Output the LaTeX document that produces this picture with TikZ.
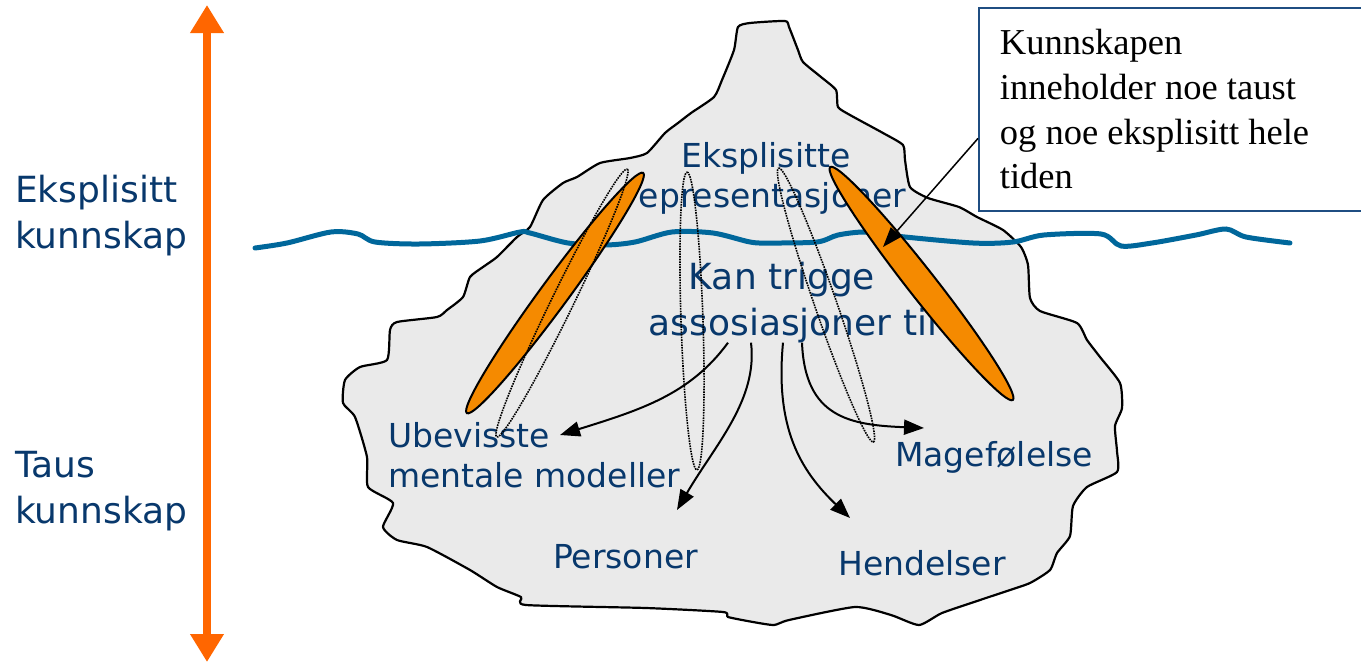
\documentclass[tikz,border=0pt]{standalone}
\usepackage{fontspec}
\newfontfamily\lblfont{DejaVu Sans}
\newfontfamily\boxfont{Liberation Serif}
\usetikzlibrary{arrows.meta}
\definecolor{icegray}{RGB}{234,234,234}
\definecolor{navy}{RGB}{8,56,108}
\definecolor{sea}{RGB}{0,103,155}
\definecolor{peel}{RGB}{245,138,0}
\definecolor{axisorange}{RGB}{255,102,0}
\definecolor{boxblue}{RGB}{31,78,130}

\begin{document}
\begin{tikzpicture}[x=1pt,y=-1pt,
	lbl/.style={text=navy,inner sep=0pt,align=left,font=\lblfont\fontsize{33}{40}\selectfont},
	biglbl/.style={lbl,font=\lblfont\fontsize{36}{45.5}\selectfont},
	arr/.style={line width=2pt,-{Triangle[length=20pt,width=15pt]}},
	axisarrow/.style={axisorange,line width=8pt,{Triangle[length=28pt,width=32pt]}-{Triangle[length=28pt,width=32pt]}},
	dottedloop/.style={densely dotted,line width=1.6pt,black}]
	\clip (0,0) rectangle (1361,667);
	% iceberg and sea
	\draw[line width=2.2pt,fill=icegray,line join=round] plot[smooth cycle,tension=0.35] coordinates {(738,27) (750,23) (785,21) (789,27) (798,50) (803,62) (821,77) (836,90) (838,107) (850,115) (883,133) (903,145) (905,160) (910,187) (928,198) (959,207) (977,217) (1003,230) (1021,247) (1028,265) (1030,298) (1040,311) (1077,323) (1087,340) (1100,357) (1120,383) (1122,408) (1115,426) (1117,451) (1117,472) (1087,487) (1073,506) (1070,536) (1057,553) (1050,570) (1030,583) (1007,591) (980,600) (942,613) (919,625) (891,615) (855,607) (789,620) (774,625) (753,622) (728,617) (723,612) (646,608) (526,605) (521,597) (497,587) (470,570) (427,547) (397,540) (383,527) (393,503) (368,487) (367,457) (355,417) (343,403) (345,380) (360,367) (387,360) (390,330) (397,322) (437,317) (447,310) (463,297) (470,277) (483,267) (497,257) (517,237) (530,227) (543,200) (563,183) (577,177) (600,163) (630,158) (647,153) (665,133) (678,123) (691,113) (714,97) (722,80) (734,50)};
	\draw[sea,line width=5pt,line cap=round] plot[smooth,tension=0.5] coordinates {(255,248) (287,243) (331,232) (358,234) (375,242) (419,244) (480,241) (520,232) (530,233) (568,243) (605,245) (635,242) (672,232) (713,233) (750,242) (770,243) (817,242) (838,235) (865,232) (895,236) (973,243) (1013,242) (1044,235) (1101,234) (1121,246) (1152,243) (1196,235) (1226,229) (1246,237) (1290,243)};
	% labels (base = last line)
	\node[biglbl,anchor=base west] (ekspl) at (15,248) {Eksplisitt\\kunnskap};
	\node[biglbl,anchor=base west] (taus) at (15,523) {Taus\\kunnskap};
	\node[lbl,align=center,anchor=base] (repr) at (766,207) {Eksplisitte\\representasjoner};
	\node[biglbl,align=center,anchor=base] (trig) at (782,335) {Kan trigge\\\hspace*{22pt}assosiasjoner til};
	\node[lbl,anchor=base west] (ubev) at (388,487) {Ubevisste\\mentale modeller};
	\node[lbl,anchor=base west] (pers) at (553,568) {Personer};
	\node[lbl,anchor=base west] (hend) at (838,575) {Hendelser};
	\node[lbl,anchor=base west] (mage) at (895,466) {Magefølelse};
	% orange ellipses and dotted loops
	\foreach \cx/\cy/\ang/\len in {555/293/53.7/149,921.5/283.5/128.1/148}
		\draw[fill=peel,line width=2pt,rotate around={\ang:(\cx,\cy)}] (\cx,\cy) ellipse [x radius=\len,y radius=14];
	\foreach \cx/\cy/\ang/\len in {562/303/64/149,692/321/91.9/149,826/305/109.1/145}
		\draw[dottedloop,rotate around={\ang:(\cx,\cy)}] (\cx,\cy) ellipse [x radius=\len,y radius=11];
	% arrows
	\coordinate (tU) at (560,435);
	\coordinate (tP) at (677,510);
	\coordinate (tH) at (850,518);
	\coordinate (tM) at (924,428);
	\draw[arr] ([xshift=-54pt]trig.south) .. controls +(-38,52) and +(80,-25) .. (tU);
	\draw[arr] ([xshift=-31pt]trig.south) .. controls +(7,57) and +(38,-65) .. (tP);
	\draw[arr] ([xshift=1pt]trig.south) .. controls +(-8,85) and +(-50,-48) .. (tH);
	\draw[arr] ([xshift=20pt]trig.south) .. controls +(3,75) and +(-74,-3) .. (tM);
	% callout box
	\node[draw=boxblue,line width=1.8pt,fill=white,anchor=north west,minimum height=203pt,text width=358pt,inner xsep=21pt,inner ysep=0pt,align=flush left,font=\boxfont\fontsize{36.5}{44.7}\selectfont] (kbox) at (978,7) {Kunnskapen\\inneholder noe taust\\og noe eksplisitt hele\\tiden};
	\coordinate (tK) at (883,247);
	\draw[line width=1.5pt,-{Triangle[length=20pt,width=14pt]}] ([yshift=-29pt]kbox.west) -- (tK);
	% scale arrow
	\coordinate (axtop) at (207,5);
	\coordinate (axbot) at (207,662);
	\draw[axisarrow] (axtop) -- (axbot);
\end{tikzpicture}
\end{document}
